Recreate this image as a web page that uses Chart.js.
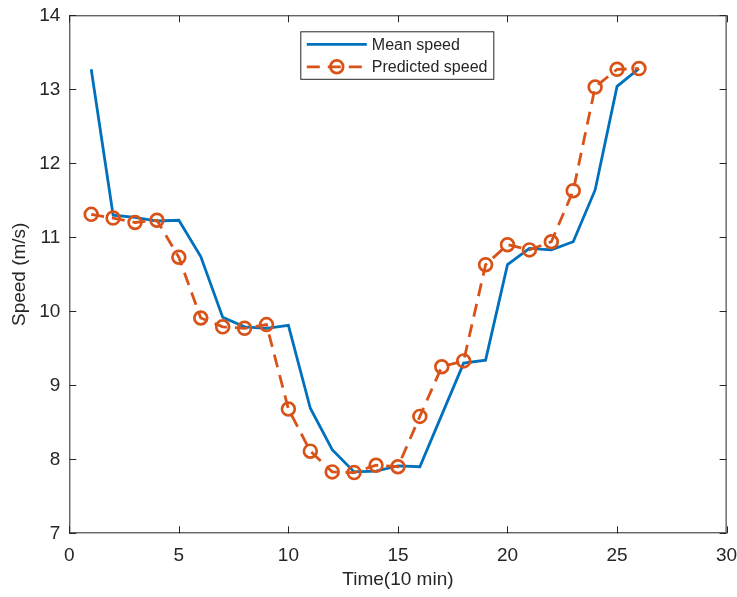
<!DOCTYPE html>
<html>
<head>
<meta charset="utf-8">
<script src="https://cdn.jsdelivr.net/npm/chart.js@4/dist/chart.umd.min.js"></script>
<style>
  html, body { margin: 0; padding: 0; background: #fff; }
  #wrap { width: 737px; height: 597px; position: relative; }
</style>
</head>
<body>
<div id="wrap"><canvas id="speedChart"></canvas></div>
<script>
// data
const time = [1, 2, 3, 4, 5, 6, 7, 8, 9, 10, 11, 12, 13, 14, 15, 16, 17, 18, 19, 20, 21, 22, 23, 24, 25, 26];
const meanSpeed = [13.27, 11.30, 11.27, 11.22, 11.23, 10.74, 9.92, 9.79, 9.77, 9.81, 8.69, 8.13, 7.83, 7.84, 7.91, 7.90, 8.60, 9.30, 9.34, 10.63, 10.85, 10.83, 10.94, 11.64, 13.04, 13.28];
const predictedSpeed = [11.31, 11.26, 11.20, 11.23, 10.73, 9.91, 9.79, 9.77, 9.82, 8.68, 8.11, 7.83, 7.82, 7.92, 7.90, 8.58, 9.25, 9.33, 10.63, 10.90, 10.83, 10.94, 11.63, 13.03, 13.27, 13.28];
const xTicks = [0, 5, 10, 15, 20, 25, 30];
const yTicks = [7, 8, 9, 10, 11, 12, 13, 14];
const seriesNames = ["Mean speed", "Predicted speed"];

const BLUE = "#0072BD";
const ORANGE = "#D95319";
const AXIS = "#262626";
const FONT = "'Liberation Sans', Arial, sans-serif";

// no extra room for overflowing tick labels, layout padding decides the box
function noPad(s) {
  s.paddingLeft = 0; s.paddingRight = 0; s.paddingTop = 0; s.paddingBottom = 0;
}

// matlab-like box with inward ticks + legend inside the axes
const matlabBox = {
  id: "matlabBox",
  afterDraw(chart) {
    const { ctx, chartArea: a, scales } = chart;
    const tl = 7;
    ctx.save();
    ctx.strokeStyle = AXIS;
    ctx.lineWidth = 1;
    ctx.strokeRect(a.left + 0.5, a.top + 0.5, a.right - a.left - 1, a.bottom - a.top - 1);
    ctx.beginPath();
    xTicks.forEach(v => {
      const px = Math.round(scales.x.getPixelForValue(v)) + 0.5;
      ctx.moveTo(px, a.bottom); ctx.lineTo(px, a.bottom - tl);
      ctx.moveTo(px, a.top); ctx.lineTo(px, a.top + tl);
    });
    yTicks.forEach(v => {
      const py = Math.round(scales.y.getPixelForValue(v)) + 0.5;
      ctx.moveTo(a.left, py); ctx.lineTo(a.left + tl, py);
      ctx.moveTo(a.right, py); ctx.lineTo(a.right - tl, py);
    });
    ctx.stroke();

    // legend
    const bx = a.left + 231.5, by = a.top + 16.5, bw = 193, bh = 47.5;
    ctx.fillStyle = "#fff";
    ctx.fillRect(bx, by, bw, bh);
    ctx.strokeRect(bx, by, bw, bh);
    const ds = chart.data.datasets;
    const x0 = bx + 6, x1 = bx + 66;
    const y0 = by + 12.5, y1 = by + 35;
    ctx.lineWidth = ds[0].borderWidth;
    ctx.strokeStyle = ds[0].borderColor;
    ctx.beginPath(); ctx.moveTo(x0, y0); ctx.lineTo(x1, y0); ctx.stroke();
    ctx.strokeStyle = ds[1].borderColor;
    ctx.lineWidth = ds[1].borderWidth;
    ctx.setLineDash(ds[1].borderDash);
    ctx.beginPath(); ctx.moveTo(x0, y1); ctx.lineTo(x1, y1); ctx.stroke();
    ctx.setLineDash([]);
    ctx.lineWidth = ds[1].pointBorderWidth;
    ctx.beginPath(); ctx.arc((x0 + x1) / 2, y1, ds[1].pointRadius, 0, Math.PI * 2); ctx.stroke();
    ctx.fillStyle = AXIS;
    ctx.font = "16px " + FONT;
    ctx.textBaseline = "middle";
    ctx.textAlign = "left";
    ctx.fillText(seriesNames[0], x1 + 5, y0 + 1);
    ctx.fillText(seriesNames[1], x1 + 5, y1 + 1);
    ctx.restore();
  }
};

const ctx = document.getElementById("speedChart").getContext("2d");
new Chart(ctx, {
  type: "line",
  data: {
    datasets: [
      {
        label: seriesNames[0],
        data: time.map((t, i) => ({ x: t, y: meanSpeed[i] })),
        borderColor: BLUE,
        borderWidth: 2.8,
        pointRadius: 0,
        tension: 0,
        order: 1
      },
      {
        label: seriesNames[1],
        data: time.map((t, i) => ({ x: t, y: predictedSpeed[i] })),
        borderColor: ORANGE,
        borderWidth: 2.8,
        borderDash: [13, 8],
        pointRadius: 6.4,
        pointBorderWidth: 2.7,
        pointBorderColor: ORANGE,
        pointBackgroundColor: "rgba(0,0,0,0)",
        tension: 0,
        order: 0
      }
    ]
  },
  options: {
    responsive: true,
    maintainAspectRatio: false,
    animation: false,
    layout: { padding: { top: 15.3, right: 10.4, bottom: 0, left: 0 } },
    scales: {
      x: {
        type: "linear",
        min: 0,
        max: 30,
        afterBuildTicks: s => { s.ticks = xTicks.map(v => ({ value: v })); },
        afterFit: s => { s.height = 63.7; noPad(s); },
        grid: { display: false, drawTicks: false },
        border: { display: false },
        ticks: { color: AXIS, font: { family: FONT, size: 19 }, padding: 11 },
        title: { display: true, text: "Time(10 min)", color: AXIS, font: { family: FONT, size: 19 }, padding: { top: 0, bottom: 5.5 } }
      },
      y: {
        min: 7,
        max: 14,
        afterBuildTicks: s => { s.ticks = yTicks.map(v => ({ value: v })); },
        afterFit: s => { s.width = 69.3; noPad(s); },
        grid: { display: false, drawTicks: false },
        border: { display: false },
        ticks: { color: AXIS, font: { family: FONT, size: 19 }, padding: 9 },
        title: { display: true, text: "Speed (m/s)", color: AXIS, font: { family: FONT, size: 19 }, padding: { top: 8.3, bottom: 0 } }
      }
    },
    plugins: {
      legend: { display: false },
      tooltip: { enabled: false }
    }
  },
  plugins: [matlabBox]
});
</script>
</body>
</html>
